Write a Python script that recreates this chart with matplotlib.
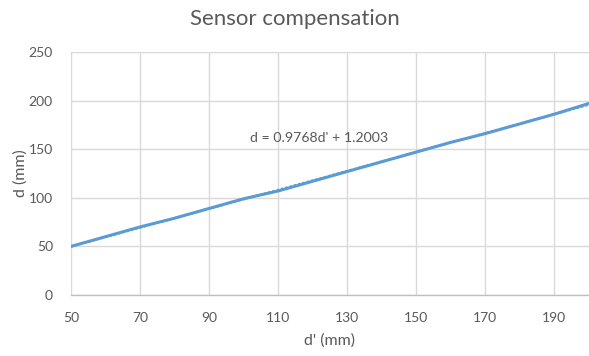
import numpy as np
import matplotlib
matplotlib.use("Agg")
import matplotlib.pyplot as plt

# measured distance d' (mm) vs real distance d (mm)
d_prime = [50, 60, 70, 80, 90, 100, 110, 120, 130, 140, 150, 160, 170, 180, 190, 200]
d_real = [50, 60, 70, 79, 89, 99, 107, 117, 127, 137, 147, 157, 166, 176, 186, 197]

x_ticks = [50, 70, 90, 110, 130, 150, 170, 190]
y_ticks = [0, 50, 100, 150, 200, 250]

title = "Sensor compensation"
x_label = "d' (mm)"
y_label = "d (mm)"
equation = "d = 0.9768d' + 1.2003"

line_color = "#5B9BD5"
text_color = "#595959"
grid_color = "#D9D9D9"

plt.rcParams['font.family'] = ['Lato', 'DejaVu Sans']

fig = plt.figure(figsize=(5.89, 3.56), dpi=100, facecolor='w')
ax = fig.add_axes([0.1205, 0.1713, 0.879, 0.6827])

ax.plot(d_prime, d_real, color=line_color, linewidth=2.2, solid_capstyle='round', zorder=3)

# linear trendline
coef = np.polyfit(d_prime, d_real, 1)
xs = np.array([min(d_prime), max(d_prime)])
ax.plot(xs, np.polyval(coef, xs), color=line_color, linewidth=1.6, linestyle=(0, (1, 1)), zorder=2)

ax.text(101.8, 161.5, equation, fontsize=10.2, color=text_color, va='center', ha='left')

ax.set_xlim(50, 200)
ax.set_ylim(0, 250)
ax.set_xticks(x_ticks)
ax.set_yticks(y_ticks)
ax.grid(True, color=grid_color, linewidth=1.0)
ax.set_axisbelow(True)

for side in ['top', 'right', 'left']:
    ax.spines[side].set_visible(False)
ax.spines['bottom'].set_color('#BFBFBF')
ax.spines['bottom'].set_linewidth(1.0)

ax.tick_params(axis='both', length=0, labelsize=10, labelcolor=text_color)
ax.tick_params(axis='x', pad=12)
ax.tick_params(axis='y', pad=13)

ax.set_xlabel(x_label, fontsize=11.5, color=text_color, labelpad=7)
ax.set_ylabel(y_label, fontsize=11.5, color=text_color, labelpad=1)
fig.suptitle(title, fontsize=16, color=text_color, y=0.975)

plt.savefig("out.png", dpi=100, facecolor='w')
plt.close(fig)
